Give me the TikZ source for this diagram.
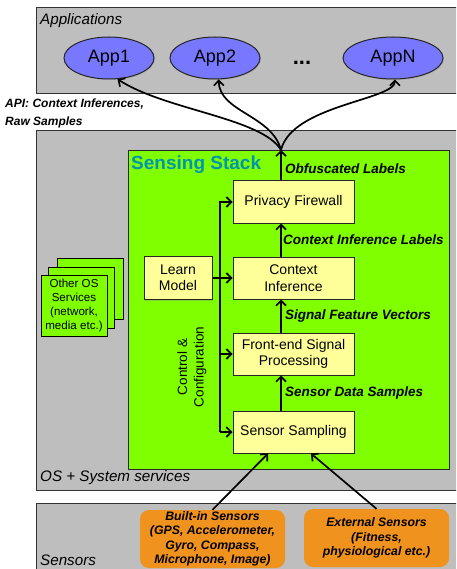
\documentclass[tikz,border=0pt]{standalone}
\usepackage{fontspec}
\setmainfont{Liberation Sans}
\usetikzlibrary{arrows.meta,shapes.geometric,shadows}

\definecolor{layergray}{RGB}{190,190,190}
\definecolor{stackgreen}{RGB}{128,255,0}
\definecolor{boxyellow}{RGB}{255,255,153}
\definecolor{appblue}{RGB}{120,120,255}
\definecolor{sensorange}{RGB}{240,146,30}
\definecolor{stackteal}{RGB}{0,150,175}

\begin{document}
\begin{tikzpicture}[
  x=1pt, y=-1pt,
  layer/.style={draw=black!80, line width=1.3pt, fill=layergray, minimum width=430pt, anchor=north west, inner sep=0pt},
  stage/.style={draw=black!85, line width=1pt, fill=boxyellow, minimum width=121pt, minimum height=42pt, inner sep=2pt, align=center,
    font=\fontsize{14}{16.5}\selectfont, drop shadow={opacity=0.3, shadow xshift=1pt, shadow yshift=-1pt}},
  app/.style={ellipse, draw=black!85, line width=1pt, fill=appblue, minimum width=90pt, minimum height=42pt,
    font=\fontsize{18}{20}\selectfont, drop shadow={opacity=0.3, shadow xshift=1pt, shadow yshift=-1pt}},
  sensor/.style={rounded corners=9pt, fill=sensorange, minimum width=145pt, minimum height=58pt, inner sep=1pt, align=center,
    font=\fontsize{12.3}{14.4}\selectfont\bfseries\itshape},
  service/.style={draw=black, line width=1pt, fill=stackgreen, minimum width=66pt, minimum height=61pt, inner sep=1pt, align=center,
    font=\fontsize{11.6}{14}\selectfont},
  flowlabel/.style={font=\fontsize{13.5}{16}\selectfont\bfseries\itshape, anchor=west},
  layerlabel/.style={font=\fontsize{15.2}{18}\selectfont\itshape, anchor=west, inner sep=0pt},
  arr/.style={-{Straight Barb[length=5pt,width=10pt]}, line width=1.7pt}
]
  \useasboundingbox (0,0) rectangle (456,569);
  \clip (0,0) rectangle (456,569);

  \node[layer, minimum height=86pt] (appl) at (36,7) {};
  \node[layerlabel] (appltxt) at (40,21) {Applications};
  \node[app] (app1) at (109,58) {App1};
  \node[app] (app2) at (215,58) {App2};
  \node[font=\fontsize{22}{24}\selectfont\bfseries, anchor=base] (dots) at (302,65) {...};
  \node[app, minimum width=100pt] (appN) at (393,58) {AppN};
  \node[font=\fontsize{12}{18}\selectfont\bfseries\itshape, align=left, anchor=west, inner sep=0pt] (api) at (5,113)
    {API: Context Inferences,\\Raw Samples};

  \node[layer, minimum height=360pt] (os) at (36,130) {};
  \node[layerlabel] (ostxt) at (40,478) {OS + System services};

  \node[service] (svc3) at (90.5,288.5) {};
  \node[service] (svc2) at (81,297.5) {};
  \node[service] (svc1) at (74,305.5) {Other OS\\Services\\(network,\\media etc.)};

  \node[draw=black!85, line width=1.3pt, fill=stackgreen, minimum width=321pt, minimum height=319pt, anchor=north west, inner sep=0pt]
    (stack) at (128,150) {};
  \node[font=\fontsize{19}{22}\selectfont\bfseries, text=stackteal, anchor=west, inner sep=0pt] (stacktxt) at (131,165) {Sensing Stack};

  \node[stage] (fw) at (293.5,202) {Privacy Firewall};
  \node[stage] (ci) at (293.5,278) {Context\\Inference};
  \node[stage] (fe) at (293.5,354) {Front-end Signal\\Processing};
  \node[stage] (ss) at (293.5,432) {Sensor Sampling};
  \node[stage, minimum width=68pt, minimum height=43pt] (lm) at (178,278) {Learn\\Model};

  \coordinate (ctl) at (220,0);
  \coordinate (flow) at (281,0);
  \coordinate (fork) at (stack.north -| flow);

  \draw[arr] (ctl |- ss.west) -- (ss.west);
  \draw[arr] (ctl |- ss.west) |- (fw.west);
  \draw[arr] (ctl |- fe.west) -- (fe.west);
  \draw[arr] (lm.east) -- (ci.west);
  \node[rotate=90, align=center, font=\fontsize{13.5}{16.5}\selectfont] (ctltxt) at (192,367) {Control \&\\Configuration};

  \draw[arr] (flow |- ss.north) -- node[flowlabel] {Sensor Data Samples} (flow |- fe.south);
  \draw[arr] (flow |- fe.north) -- node[flowlabel] {Signal Feature Vectors} (flow |- ci.south);
  \draw[arr] (flow |- ci.north) -- node[flowlabel, xshift=-2pt] {Context Inference Labels} (flow |- fw.south);
  \draw[arr] (flow |- fw.north) -- node[flowlabel, pos=0.4] {Obfuscated Labels} (fork);

  \draw[arr] (fork) .. controls (262,118) and (165,110) .. (app1.-68);
  \draw[arr] (fork) .. controls (272,115) and (219,112) .. (app2.-80);
  \draw[arr] (fork) .. controls (292,105) and (395,100) .. (appN.-85);

  \node[layer, minimum height=80pt] (sens) at (36,503) {};
  \node[layerlabel] (senstxt) at (40,560) {Sensors};
  \node[sensor] (builtin) at (212.5,539) {Built-in Sensors\\(GPS, Accelerometer,\\Gyro, Compass,\\Microphone, Image)};
  \node[sensor] (external) at (376.5,538) {External Sensors\\(Fitness,\\physiological etc.)};

  \draw[arr] (builtin.north) -- ([xshift=-25.5pt]ss.south);
  \draw[arr] (external.north) -- ([xshift=17.5pt]ss.south);
\end{tikzpicture}
\end{document}
